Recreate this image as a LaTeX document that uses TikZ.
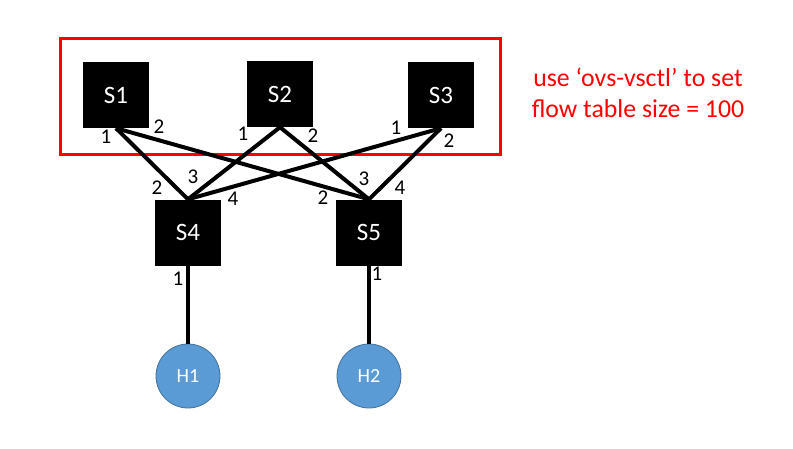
\documentclass[tikz,border=0pt]{standalone}
\usepackage{fontspec}
\setmainfont{Carlito}
\definecolor{hostfill}{HTML}{5B9BD5}
\definecolor{hostdraw}{HTML}{41719C}
\begin{document}
\begin{tikzpicture}[x=1pt,y=-1pt,
  switch/.style={rectangle,fill=black,minimum size=66pt,inner sep=0pt,text=white,font=\fontsize{25}{29}\selectfont},
  host/.style={circle,fill=hostfill,draw=hostdraw,line width=0.8pt,minimum size=64pt,inner sep=0pt,text=white,font=\fontsize{20}{24}\selectfont},
  link/.style={line width=4pt},
  port/.style={inner sep=0pt,font=\fontsize{21}{25}\selectfont},
  redbox/.style={draw=red,line width=3pt},
  note/.style={text=red,align=center,font=\fontsize{25.8}{31}\selectfont}]
\useasboundingbox (0,0) rectangle (793,448);
\node[redbox,minimum width=440pt,minimum height=116pt,inner sep=0pt] (frame) at (280.5,96.5) {};
\node[switch] (s1) at (116,95) {S1};
\node[switch] (s2) at (280,94) {S2};
\node[switch] (s3) at (441,95) {S3};
\node[switch] (s4) at (188,232.5) {S4};
\node[switch] (s5) at (369,232.5) {S5};
\node[host] (h1) at (188,376) {H1};
\node[host] (h2) at (369,376) {H2};
\draw[link] (s1.south) -- (s4.north);
\draw[link] (s1.south) -- (s5.north);
\draw[link] (s2.south) -- (s4.north);
\draw[link] (s2.south) -- (s5.north);
\draw[link] (s3.south) -- (s4.north);
\draw[link] (s3.south) -- (s5.north);
\draw[link] (s4.south) -- (h1.north);
\draw[link] (s5.south) -- (h2.north);
\node[port] (p11) at (106,137) {1};
\node[port] (p12) at (159,127) {2};
\node[port] (p21) at (243,134) {1};
\node[port] (p22) at (313,136) {2};
\node[port] (p31) at (396,128) {1};
\node[port] (p32) at (449,141) {2};
\node[port] (p42) at (157,188) {2};
\node[port] (p43) at (193,177) {3};
\node[port] (p44) at (233,199) {4};
\node[port] (p52) at (323,198) {2};
\node[port] (p53) at (364,179) {3};
\node[port] (p54) at (400,188) {4};
\node[port] (p41) at (178,279) {1};
\node[port] (p51) at (377,274) {1};
\node[note] (note) at (638,93) {use ‘ovs-vsctl’ to set\\flow table size = 100};
\end{tikzpicture}
\end{document}
